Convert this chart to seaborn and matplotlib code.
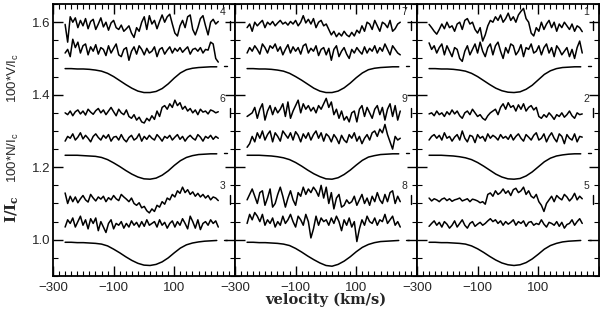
import numpy as np
import matplotlib
matplotlib.use('Agg')
import matplotlib.pyplot as plt
from matplotlib.ticker import MultipleLocator
import seaborn as sns

# ---- data ----
# vertical offsets of the three groups in each panel (bottom, middle, top)
offsets = [0.0, 0.24, 0.48]
panel_stars = [['3', '6', '4'], ['8', '9', '7'], ['5', '2', '1']]

# Stokes I profile, velocity grid (km/s) and values in units of 0.001
vel_I = [-260, -240, -220, -200, -180, -160, -140, -120, -100, -80, -60, -40, -20,
         0, 20, 40, 60, 80, 100, 120, 140, 160, 180, 200, 220, 240]
I3 = [993, 993, 992, 992, 991, 990, 988, 983, 974, 964, 953, 943, 935,
      930, 929, 932, 939, 950, 964, 977, 986, 991, 994, 996, 997, 998]
I6 = [993, 993, 993, 992, 991, 990, 987, 981, 972, 962, 951, 941, 933,
      928, 927, 930, 938, 950, 965, 978, 987, 992, 995, 996, 997, 997]
I4 = [992, 992, 991, 991, 990, 988, 985, 979, 970, 959, 948, 938, 930,
      926, 926, 929, 937, 950, 966, 980, 989, 993, 995, 996, 997, 997]
I8 = [993, 993, 992, 992, 991, 990, 988, 984, 976, 966, 955, 945, 936,
      929, 927, 932, 941, 953, 967, 979, 987, 992, 995, 996, 997, 998]
I9 = [993, 993, 993, 992, 991, 989, 986, 981, 973, 963, 952, 942, 934,
      928, 927, 931, 940, 952, 966, 979, 988, 992, 995, 996, 997, 997]
I7 = [992, 992, 991, 991, 990, 988, 985, 979, 970, 960, 949, 938, 930,
      926, 926, 930, 939, 952, 967, 980, 989, 993, 995, 996, 997, 997]
I5 = [993, 993, 992, 992, 991, 990, 988, 983, 975, 965, 954, 944, 936,
      931, 929, 931, 937, 947, 960, 974, 984, 990, 994, 996, 997, 998]
I2 = [993, 993, 993, 992, 991, 989, 986, 981, 973, 963, 952, 941, 933,
      928, 927, 929, 936, 947, 961, 975, 985, 991, 994, 996, 997, 997]
I1 = [992, 992, 991, 991, 990, 988, 985, 979, 970, 959, 948, 938, 931,
      927, 926, 928, 935, 946, 961, 976, 986, 992, 995, 996, 997, 997]

# 100*N/Ic and 100*V/Ic, deviations from their baselines in units of 0.001
vel_lo, vel_hi = -260, 245
N_base, V_base = 1.04, 1.11

V4 = [4, -45, 25, 10, 22, -5, 15, 0, 20, -8, 12, 18, -10, 5, 22, -3, 10, -12, 8, 15, -5,
      -10, 2, -15, -8, 0, -20, -32, -5, -15, 10, 25, -10, 28, 5, 15, -8, 12, 30, 10, 25,
      32, 5, -20, -28, 0, 15, -5, 25, 30, -10, -25, -5, 20, 28, 0, -25, 10, 18, 5, 12]
N4 = [-5, 5, -15, 33, 10, 25, -5, 15, 20, -10, 12, 0, 18, -8, 10, 5, -12, 15, -5, 8, 20,
      -10, -15, 5, 10, -25, 0, 12, -8, 15, 5, -10, 8, -5, 0, 12, -15, 5, 10, -8, 3,
      12, -5, 8, 0, 10, -3, 5, 12, -8, 5, 8, 0, 10, -5, 5, 3, 25, 20, -20, -30]
V6 = [0, -5, 5, -8, 3, 8, -3, 5, -6, 10, 2, -4, 6, 12, 0, 8, -5, 5, 15, 3, -8,
      10, 0, -5, 8, -10, -15, -5, -20, -12, -25, -28, -15, -22, -8, -18, 5, -10, 15, 20, 10,
      25, 15, 35, 20, 28, 10, 18, 5, 12, 0, 8, -5, 10, 2, 5, -3, 8, 5, 0, 3]
N6 = [-8, 5, 0, 12, -5, 3, 15, -2, 8, 0, -10, 5, 12, 2, -5, 8, 0, 10, -8, 3, 5,
      -5, 10, -3, -10, 2, 8, -5, 0, 12, -8, 5, -3, 8, 0, -5, 10, 2, -8, 5, 0,
      8, -5, 3, 10, -3, 5, -8, 2, 8, 0, -5, 10, 3, -8, 5, 0, 8, -3, 5, 0]
V3 = [19, -10, 10, -5, 8, -8, 3, 12, 0, -6, 15, 5, -3, 8, 2, 10, -5, 6, 0, 12, 3,
      -2, 15, 8, 2, -5, 5, -10, -15, -8, -22, -18, -30, -36, -25, -32, -15, -20, -5, -12, 5,
      0, 15, 8, 25, 18, 35, 20, 28, 15, 22, 10, 18, 8, 15, 5, 12, 0, 8, 5, -2]
N3 = [-5, 15, 5, 20, -5, 10, 25, 0, 15, -10, 18, 5, 20, -15, 10, -5, -20, 5, 15, -10, 5,
      0, 10, -8, 5, -5, 12, 0, 8, -5, 10, -3, 15, 0, 5, 10, -5, 15, 0, 8, -8,
      5, 12, -5, 10, 0, 18, 5, -10, 25, 10, -8, 15, -12, 5, 10, 0, 15, 5, 12, -5]

V7 = [-5, 5, -15, 10, 0, 8, 15, -5, 10, 3, 12, 0, 8, 15, 5, 10, 2, 12, 5, 15, 0,
      10, 28, 8, 18, 5, 20, -5, 10, 15, 0, 5, -10, -25, -15, -30, -20, -28, -15, -25, -30,
      -18, -28, -12, -20, 0, -15, 10, 5, -10, 15, 0, -15, 10, 5, -5, 15, -15, -8, 5, 10]
N7 = [-5, 10, 0, 15, 5, -8, 20, 10, -5, 15, 8, 20, 0, 12, -10, 5, 18, -5, 12, 0, 10,
      -8, 15, 20, -5, 8, 0, 15, -12, 5, 10, -10, 8, -25, 5, 15, -15, 0, 10, -8, -20,
      5, -5, 10, 0, -8, 12, -5, 8, 0, 15, -5, 10, 0, 20, 5, -10, 15, 5, -5, -10]
V9 = [-10, -5, 0, 15, -15, 10, 25, -20, 5, 20, -5, 15, 0, 10, 25, -10, 30, -15, 5, 20, 35,
      0, 25, 10, 20, 5, 15, 0, 20, 10, 25, 40, 15, 30, -5, 10, -15, 5, -20, -10, -25,
      0, 5, -25, 10, 20, -10, 15, 0, -15, 10, 20, -5, 15, -20, 10, 25, -10, 20, -20, 5]
N9 = [-25, -15, 5, -10, 15, 0, 20, -5, 10, 20, -10, 15, 5, -8, 20, 10, 0, 15, -5, 18, 8,
      -10, 12, 0, 15, -5, 10, 20, 0, 15, -8, 12, 5, -10, 10, 0, -15, 8, -5, -12, 10,
      0, 15, -8, 5, -15, 0, 10, -5, 15, 20, 5, 25, 15, 38, 10, -10, -30, 5, -5, 0]
V8 = [0, 15, 30, 10, -10, 20, 25, -15, 5, 30, -20, -10, 15, 35, 10, -20, 5, 25, 0, -15, 20,
      10, 35, 15, 30, 20, 35, 25, 10, 40, 5, 35, -10, 20, -25, 5, 15, -20, -15, 0, -10,
      -5, 10, -15, 0, 15, -10, 5, -15, 10, -5, 20, 0, -10, 15, -5, 20, 25, -10, 10, -5]
N8 = [5, 30, 15, 35, 25, 10, 30, 0, 15, 5, 20, -5, 10, 0, 25, 5, 15, 30, 10, -5, 25,
      15, 0, 30, 10, -35, -10, 25, 0, 20, 10, 15, 0, 20, 5, 25, 10, -15, 15, 0, 20,
      -5, 10, -45, -10, 15, 0, 25, 10, 5, 20, 0, 15, 10, 30, 5, 15, 25, 0, 10, -5]

V1 = [4, -5, -15, -23, -10, 5, -8, 10, -5, 0, -15, 5, 10, -10, 15, 20, 5, 10, -10, -20, -5,
      -42, -25, 0, 15, 10, 25, 15, 30, 10, 20, 35, 15, 25, 10, 30, 40, 48, 20, 10, -20,
      -28, -5, -15, 10, -10, 5, 15, -5, 10, -15, 5, -5, 10, 0, -10, 5, -15, 0, -5, -16]
N1 = [23, 5, 15, -5, 10, 20, -10, 15, 0, -15, 10, 5, -20, -28, 0, 15, -10, 5, 20, -5, 25,
      0, -15, 10, 20, -10, 15, 25, 0, -20, 10, -5, 20, 15, -10, 0, 18, -15, 10, 5, 20,
      -5, 0, 15, -10, 10, 20, -5, 10, -15, 15, 5, -10, 0, 10, -15, 5, -20, 10, 28, -5]
V2 = [-3, 0, -8, 5, -5, 0, -10, 3, -5, 8, -3, 5, -8, -15, 0, 5, -5, 10, 0, -10, -5,
      -15, -20, -8, 0, 5, 10, -5, 15, 25, 10, 28, 15, 20, 5, 22, 10, 25, 5, 15, 20,
      8, 15, -10, -15, -5, -12, 0, -8, -18, -5, -10, 0, -12, -5, 5, -8, -15, 0, -5, -3]
N2 = [-5, 5, 10, 0, 8, -5, 15, 0, 5, -8, 3, 10, -5, 20, 0, -10, 8, 5, -12, 10, 0,
      5, -8, 12, 0, 8, 3, -5, 10, 0, 5, -3, 10, -5, 5, 12, 0, -8, 10, 3, -5,
      8, 15, -5, 0, 12, -10, 5, 15, 0, -10, 12, 5, -15, 10, 0, -5, 12, -10, 5, 3]
V5 = [5, -3, 3, 0, -5, 2, 5, -2, 3, -4, 0, 2, 5, -3, 0, 3, -5, 2, 0, -3, -8,
      -5, -12, 15, 19, 10, 25, 15, 20, 30, 18, 25, 12, 28, 32, 20, 25, 35, 15, 25, 10,
      5, 15, -5, -15, -32, -10, 0, 10, -5, 12, 5, 0, 15, 8, -3, 5, 18, 0, 10, 3]
N5 = [-3, 5, 12, 0, 8, -5, 10, 3, -8, 0, 12, -5, 5, 15, 0, -8, 5, 10, -3, 3, 8,
      0, 5, 12, 18, 10, 15, 5, 12, 0, 10, 3, 8, 15, 0, 10, 5, 12, -3, 8, 10,
      0, 5, 2, 15, 3, -5, 8, 5, 0, 10, -3, 8, -8, 2, 5, 15, 0, 10, 18, 5]

I_prof = {'1': I1, '2': I2, '3': I3, '4': I4, '5': I5, '6': I6, '7': I7, '8': I8, '9': I9}
N_prof = {'1': N1, '2': N2, '3': N3, '4': N4, '5': N5, '6': N6, '7': N7, '8': N8, '9': N9}
V_prof = {'1': V1, '2': V2, '3': V3, '4': V4, '5': V5, '6': V6, '7': V7, '8': V8, '9': V9}

xtick_vals = [-300, -100, 100, 300]
xtick_text = ['\u2212300', '\u2212100', '100', '']
ytick_vals = [1.0, 1.2, 1.4, 1.6]

# ---- plotting ----
sns.set_style('ticks')
plt.rcParams['font.family'] = ['Liberation Sans', 'DejaVu Sans']
plt.rcParams['mathtext.fontset'] = 'custom'
plt.rcParams['mathtext.rm'] = 'Liberation Sans'
plt.rcParams['mathtext.bf'] = 'DejaVu Serif:bold'

fig = plt.figure(figsize=(6, 3.09), dpi=100)
left, width, bottom, height = 0.0883, 0.3033, 0.1068, 0.880
axes = [fig.add_axes([left + i * width, bottom, width, height]) for i in range(3)]

lw = 1.1
for col, stars in enumerate(panel_stars):
    ax = axes[col]
    for off, s in zip(offsets, stars):
        sns.lineplot(x=vel_I, y=np.array(I_prof[s]) / 1000 + off, ax=ax,
                     color='k', linewidth=lw)
        n = np.array(N_prof[s])
        vn = np.linspace(vel_lo, vel_hi, len(n))
        sns.lineplot(x=vn, y=N_base + off + n / 1000, ax=ax, color='k', linewidth=lw)
        v = np.array(V_prof[s])
        vv = np.linspace(vel_lo, vel_hi, len(v))
        sns.lineplot(x=vv, y=V_base + off + v / 1000, ax=ax, color='k', linewidth=lw)
        # scale bar and continuum mark
        ax.plot([282, 282], [V_base + off - 0.0125, V_base + off + 0.0125], color='k', lw=1.0)
        ax.plot([264, 274], [1.0 + off, 1.0 + off], color='k', lw=1.0)
        ax.text(258, 1.147 + off, s, ha='center', va='center', fontsize=7.5)

    ax.set_xlim(-300, 300)
    ax.set_ylim(0.9, 1.65)
    ax.set_xticks(xtick_vals)
    ax.set_xticklabels(xtick_text, fontsize=9.5)
    ax.xaxis.set_minor_locator(MultipleLocator(20))
    ax.set_yticks(ytick_vals)
    ax.yaxis.set_minor_locator(MultipleLocator(0.05))
    if col == 0:
        ax.set_yticklabels(['1.0', '1.2', '1.4', '1.6'], fontsize=9.5)
    else:
        ax.set_yticklabels([])
    ax.tick_params(which='both', direction='in', top=True, right=True, color='k')
    ax.tick_params(which='major', length=7, width=1.0)
    ax.tick_params(which='minor', length=3.5, width=0.8)
    ax.tick_params(axis='x', pad=4)
    ax.tick_params(axis='y', pad=2)
    for sp in ax.spines.values():
        sp.set_linewidth(1.3)
        sp.set_color('k')
    ax.set_xlabel('')
    ax.set_ylabel('')

fig.text(0.022, 0.748, r'100*V/I$_\mathrm{c}$', rotation=90, ha='center', va='center', fontsize=9.5)
fig.text(0.022, 0.489, r'100*N/I$_\mathrm{c}$', rotation=90, ha='center', va='center', fontsize=9.5)
fig.text(0.020, 0.325, r'I/I$_\mathbf{c}$', rotation=90, ha='center', va='center',
         fontsize=11, family='DejaVu Serif', weight='bold')
fig.text(0.543, 0.005, 'velocity (km/s)', ha='center', va='bottom',
         fontsize=10.5, family='DejaVu Serif', weight='bold')

fig.savefig('out.png', dpi=100, facecolor='white')
